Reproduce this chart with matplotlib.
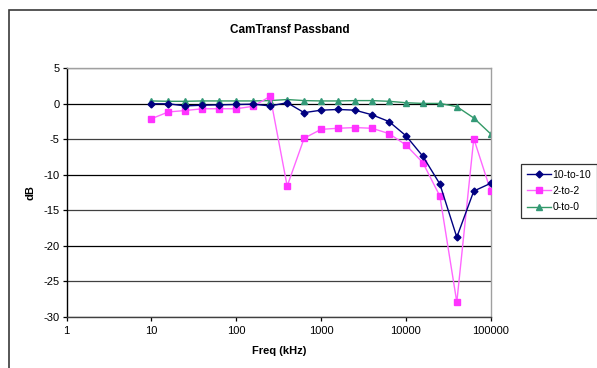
import matplotlib.pyplot as plt
import numpy as np
from matplotlib.patches import Rectangle
from matplotlib.ticker import FixedLocator, NullLocator

# frequency points (kHz), 1/5-decade steps
freq = [10, 15.8, 25.1, 39.8, 63.1, 100, 158, 251, 398, 631, 1000, 1585,
        2512, 3981, 6310, 10000, 15849, 25119, 39811, 63096, 100000]

db_10 = [0.0, 0.0, -0.3, -0.2, -0.15, -0.1, -0.05, -0.3, 0.15, -1.25, -0.9,
         -0.8, -0.9, -1.55, -2.5, -4.5, -7.4, -11.3, -18.8, -12.3, -11.2]
db_2 = [-2.1, -1.15, -0.95, -0.7, -0.7, -0.7, -0.35, 1.05, -11.6, -4.85, -3.6,
        -3.45, -3.35, -3.45, -4.2, -5.8, -8.3, -13.0, -27.95, -4.9, -12.3]
db_0 = [0.4, 0.35, 0.35, 0.4, 0.4, 0.4, 0.4, 0.45, 0.6, 0.45, 0.4,
        0.4, 0.45, 0.45, 0.35, 0.15, 0.05, 0.05, -0.4, -2.0, -4.25]

labels = ["10-to-10", "2-to-2", "0-to-0"]
yticks = [5, 0, -5, -10, -15, -20, -25, -30]
xticks = [1, 10, 100, 1000, 10000, 100000]

plt.rcParams["font.family"] = ["Liberation Sans", "DejaVu Sans"]
plt.rcParams["axes.unicode_minus"] = False

fig = plt.figure(figsize=(5.97, 3.68), dpi=100)
ax = fig.add_axes([0.1117, 0.1394, 0.7103, 0.675])

# outer chart border (runs off the right/bottom of the image)
fig.patches.append(Rectangle((9 / 597, -0.2), 1.2, 1.2 - 10 / 368,
                             transform=fig.transFigure, fill=False,
                             edgecolor="#3a3a3a", lw=1.2, zorder=0))

for y in yticks:
    ax.axhline(y, color="#000000" if y in (0, -10, -20) else "#404040",
               lw=0.9, zorder=1)

ax.plot(freq, db_10, color="#000080", marker="D", ms=3.5, lw=1,
        label=labels[0], zorder=4)
ax.plot(freq, db_2, color="#ff66ff", marker="s", ms=4.5, lw=1,
        mfc="#ff33ff", mec="#ff33ff", label=labels[1], zorder=3)
ax.plot(freq, db_0, color="#339966", marker="^", ms=5, lw=1,
        mfc="#339977", mec="#339977", label=labels[2], zorder=2)

ax.set_xscale("log")
ax.set_xlim(1, 100000)
ax.set_ylim(-30, 5)
ax.xaxis.set_major_locator(FixedLocator(xticks))
ax.xaxis.set_minor_locator(NullLocator())
ax.set_xticklabels([str(v) for v in xticks])
ax.set_yticks(yticks)
ax.tick_params(labelsize=8, length=3, width=0.9, colors="#000000")
ax.tick_params(axis="y", pad=2)
ax.tick_params(axis="x", pad=4)

ax.spines["left"].set_color("#000000")
ax.spines["bottom"].set_color("#404040")
ax.spines["top"].set_color("#a0a0a0")
ax.spines["right"].set_color("#a0a0a0")
for s in ax.spines.values():
    s.set_linewidth(1)

ax.set_xlabel("Freq (kHz)", fontsize=8, fontweight="bold", labelpad=7)
ax.set_ylabel("dB", fontsize=8, fontweight="bold", labelpad=6)
fig.text(0.486, 0.918, "CamTransf Passband", ha="center", va="center",
         fontsize=8.5, fontweight="bold")

leg = ax.legend(loc="upper left", bbox_to_anchor=(521 / 597, 1 - 164 / 368),
                bbox_transform=fig.transFigure, fontsize=7.5, frameon=True,
                fancybox=False, edgecolor="#000000", borderpad=0.55,
                labelspacing=0.6, handlelength=2.3, handletextpad=0.15,
                borderaxespad=0)
leg.get_frame().set_linewidth(0.9)

fig.savefig("out.png", dpi=100)
